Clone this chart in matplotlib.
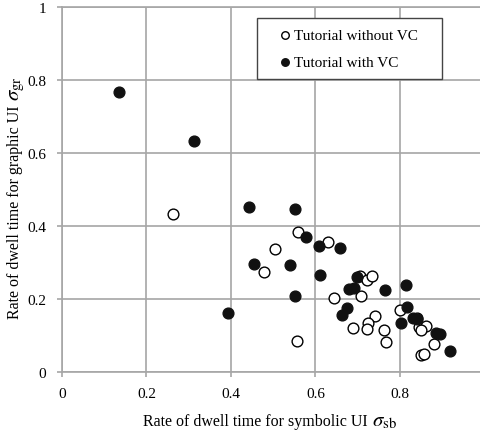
import numpy as np
import matplotlib
matplotlib.use("Agg")
import matplotlib.pyplot as plt

# tutorial without VC (open circles)
sb_without = [0.262, 0.504, 0.478, 0.559, 0.630, 0.644, 0.556, 0.705, 0.723, 0.735,
              0.709, 0.740, 0.724, 0.722, 0.690, 0.762, 0.767, 0.801, 0.846, 0.862,
              0.851, 0.880, 0.851, 0.858, 0.840]
gr_without = [0.434, 0.336, 0.275, 0.383, 0.356, 0.204, 0.085, 0.263, 0.252, 0.262,
              0.207, 0.154, 0.135, 0.118, 0.121, 0.114, 0.081, 0.170, 0.122, 0.127,
              0.116, 0.077, 0.046, 0.049, 0.149]

# tutorial with VC (filled circles)
sb_with = [0.135, 0.313, 0.443, 0.454, 0.393, 0.552, 0.578, 0.609, 0.657, 0.539,
           0.611, 0.551, 0.698, 0.679, 0.691, 0.764, 0.814, 0.674, 0.663, 0.817,
           0.803, 0.832, 0.841, 0.885, 0.895, 0.919]
gr_with = [0.768, 0.634, 0.453, 0.296, 0.163, 0.447, 0.369, 0.346, 0.339, 0.292,
           0.265, 0.209, 0.259, 0.227, 0.230, 0.224, 0.238, 0.174, 0.155, 0.178,
           0.135, 0.149, 0.145, 0.106, 0.103, 0.058]

ticks = [0, 0.2, 0.4, 0.6, 0.8, 1]
tick_labels = ["0", "0.2", "0.4", "0.6", "0.8", "1"]

plt.rcParams['font.family'] = ['Liberation Serif', 'DejaVu Serif']
plt.rcParams['mathtext.fontset'] = 'stix'

fig = plt.figure(figsize=(4.81, 4.35), dpi=100)
ax = fig.add_axes([62/481, 62/435, 1 - 62/481, 365/435])

ax.scatter(sb_without, gr_without, s=60, facecolor='white', edgecolor='black',
           linewidth=1.0, zorder=3, label='Tutorial without VC')
ax.scatter(sb_with, gr_with, s=60, facecolor='#111111', edgecolor='#111111',
           linewidth=1.0, zorder=3, label='Tutorial with VC')

ax.set_xlim(0, 0.992)
ax.set_ylim(0, 1)
ax.set_xticks(ticks[:-1])
ax.set_xticklabels(tick_labels[:-1])
ax.set_yticks(ticks)
ax.set_yticklabels(tick_labels)
ax.grid(True, color='#a6a6a6', linewidth=1.2)
ax.set_axisbelow(True)

ax.spines['right'].set_visible(False)
for side in ['left', 'bottom', 'top']:
    ax.spines[side].set_color('#a6a6a6')
    ax.spines[side].set_linewidth(1.2)
ax.tick_params(length=3.5, width=1.2, color='#a6a6a6', labelsize=11)
ax.tick_params(axis='x', pad=7)
ax.tick_params(axis='y', pad=8)

# axis labels, sigma drawn a bit bigger like the original
ax.set_xlabel('Rate of dwell time for symbolic UI', fontsize=11.5)
ax.xaxis.set_label_coords(0.461, -0.113)
ax.set_ylabel('Rate of dwell time for graphic UI', fontsize=11.5)
ax.yaxis.set_label_coords(-0.093, 0.44)

ax.annotate(r'$\sigma_{\rm sb}$', xy=(1, 0), xycoords=ax.xaxis.label,
            xytext=(3, 2.5), textcoords='offset points',
            ha='left', va='baseline', fontsize=15)
ax.annotate(r'$\sigma_{\rm gr}$', xy=(1, 1), xycoords=ax.yaxis.label,
            xytext=(-2.5, 3), textcoords='offset points',
            ha='left', va='baseline', rotation=90, rotation_mode='anchor',
            fontsize=15)

leg = ax.legend(loc='upper left', bbox_to_anchor=(0.4654, 0.5, 0.4415, 0.47),
                mode='expand', borderaxespad=0, fontsize=11,
                markerscale=0.7, handlelength=2.2, handletextpad=-0.51,
                borderpad=0.7, labelspacing=0.82,
                fancybox=False, framealpha=1, edgecolor='#444444')
leg.get_frame().set_linewidth(1.0)

fig.savefig('out.png', dpi=100)
